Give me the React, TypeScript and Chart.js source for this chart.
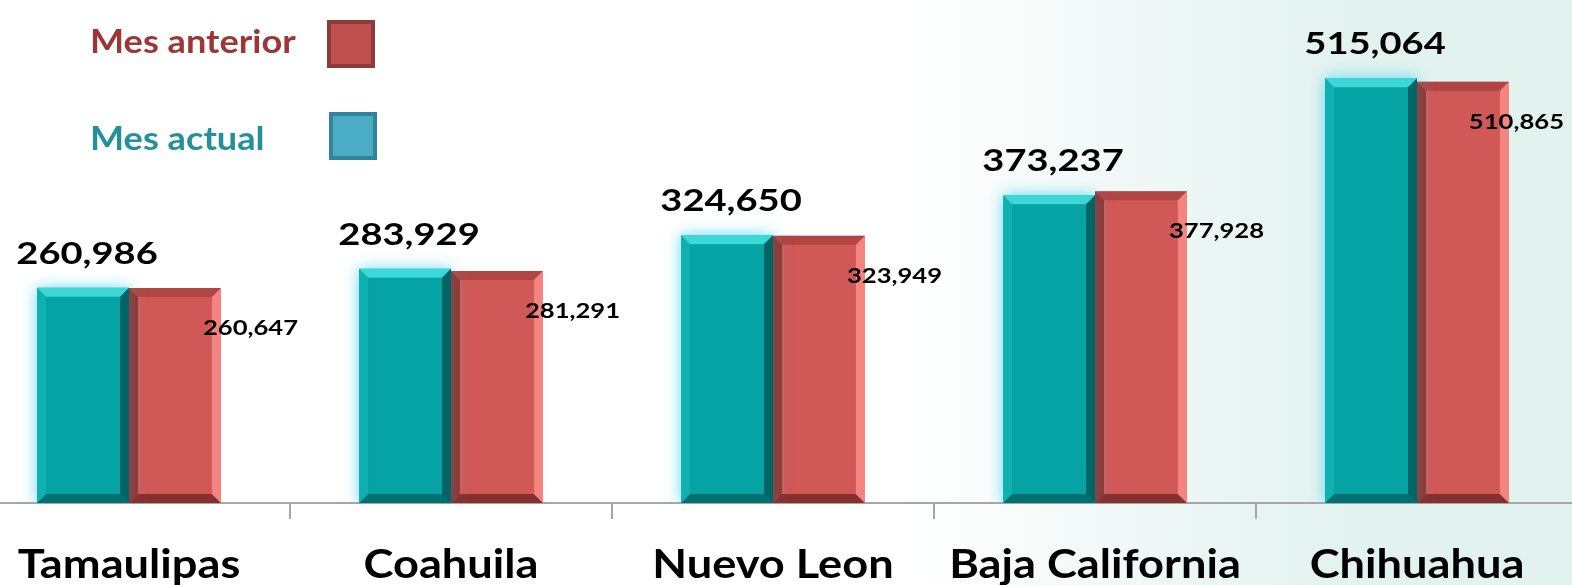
import React, { useEffect, useRef } from "react";
import { Chart, registerables } from "chart.js";
Chart.register(...registerables);

const categories = ["Tamaulipas", "Coahuila", "Nuevo Leon", "Baja California", "Chihuahua"];
const mesActual = [260986, 283929, 324650, 373237, 515064];
const mesAnterior = [260647, 281291, 323949, 377928, 510865];
const seriesNames = ["Mes actual", "Mes anterior"];
const yMax = 610000;

const FONT = "Lato, 'Open Sans', 'DejaVu Sans', sans-serif";
const SHIFT = 32; // canvas is shifted left so the first category is partly cropped
const VIEW_W = 1572;

function fmt(v: number) {
  return v.toLocaleString("en-US");
}

function stretchedText(
  ctx: CanvasRenderingContext2D,
  text: string,
  x: number,
  y: number,
  size: number,
  sx: number,
  color: string,
  align: "left" | "center"
) {
  ctx.save();
  ctx.font = `bold ${size}px ${FONT}`;
  ctx.fillStyle = color;
  ctx.textBaseline = "alphabetic";
  ctx.textAlign = "left";
  const w = ctx.measureText(text).width * sx;
  const left = align === "center" ? x - w / 2 : x;
  ctx.translate(left, y);
  ctx.scale(sx, 1);
  ctx.fillText(text, 0, 0);
  ctx.restore();
  return w;
}

function measureStretched(ctx: CanvasRenderingContext2D, text: string, size: number, sx: number) {
  ctx.save();
  ctx.font = `bold ${size}px ${FONT}`;
  const w = ctx.measureText(text).width * sx;
  ctx.restore();
  return w;
}

const bevelColors = [
  { top: "rgba(70,225,225,0.85)", left: "rgba(20,185,185,0.6)", right: "rgba(0,80,80,0.75)", bottom: "rgba(0,90,90,0.7)" },
  { top: "rgba(150,55,52,0.55)", left: "rgba(120,40,38,0.7)", right: "rgba(250,140,135,0.85)", bottom: "rgba(110,35,33,0.75)" },
];

const backgroundPlugin = {
  id: "bgPlugin",
  beforeDraw(chart: any) {
    const { ctx, width, height } = chart;
    ctx.save();
    ctx.fillStyle = "#ffffff";
    ctx.fillRect(0, 0, width, height);
    const g = ctx.createLinearGradient(900 + SHIFT, 0, 1350 + SHIFT, 0);
    g.addColorStop(0, "rgba(226,242,239,0)");
    g.addColorStop(1, "rgba(226,242,239,1)");
    ctx.fillStyle = g;
    ctx.fillRect(900 + SHIFT, 0, width - 900 - SHIFT, height);
    ctx.restore();
  },
};

const glowPlugin = {
  id: "glowPlugin",
  beforeDatasetDraw(chart: any, args: any) {
    if (args.index === 0) {
      chart.ctx.save();
      chart.ctx.shadowColor = "rgba(90,215,240,0.95)";
      chart.ctx.shadowBlur = 14;
    }
  },
  afterDatasetDraw(chart: any, args: any) {
    if (args.index === 0) chart.ctx.restore();
  },
};

const decorPlugin = {
  id: "decorPlugin",
  afterDatasetsDraw(chart: any) {
    const ctx: CanvasRenderingContext2D = chart.ctx;
    chart.data.datasets.forEach((ds: any, di: number) => {
      const meta = chart.getDatasetMeta(di);
      const c = bevelColors[di];
      meta.data.forEach((el: any) => {
        const { x, y, base, width } = el.getProps(["x", "y", "base", "width"], true);
        const l = x - width / 2;
        const r = x + width / 2;
        const t = y;
        const b = base;
        const s = 9;
        const poly = (pts: number[][], col: string) => {
          ctx.beginPath();
          ctx.moveTo(pts[0][0], pts[0][1]);
          for (let i = 1; i < pts.length; i++) ctx.lineTo(pts[i][0], pts[i][1]);
          ctx.closePath();
          ctx.fillStyle = col;
          ctx.fill();
        };
        ctx.save();
        poly([[l, t], [r, t], [r - s, t + s], [l + s, t + s]], c.top);
        poly([[l, b], [r, b], [r - s, b - s], [l + s, b - s]], c.bottom);
        poly([[l, t], [l + s, t + s], [l + s, b - s], [l, b]], c.left);
        poly([[r, t], [r - s, t + s], [r - s, b - s], [r, b]], c.right);
        ctx.restore();
      });
    });

    // value labels
    const m0 = chart.getDatasetMeta(0);
    m0.data.forEach((el: any, i: number) => {
      const { x, y } = el.getProps(["x", "y"], true);
      stretchedText(ctx, fmt(mesActual[i]), x + 4, y - 24, 30, 1.27, "#000000", "center");
    });
    const m1 = chart.getDatasetMeta(1);
    const limit = VIEW_W + SHIFT - 8;
    m1.data.forEach((el: any, i: number) => {
      const { x, y, width } = el.getProps(["x", "y", "width"], true);
      const txt = fmt(mesAnterior[i]);
      const w = measureStretched(ctx, txt, 21, 1.22);
      let left = x + width / 2 - 18;
      if (left + w > limit) left = limit - w;
      stretchedText(ctx, txt, left, y + 47, 21, 1.22, "#000000", "left");
    });

    // category labels
    const xs = chart.scales.x;
    categories.forEach((cat, i) => {
      stretchedText(ctx, cat, xs.getPixelForTick(i), 578, 40, 1.13, "#000000", "center");
    });

    // legend
    const L = (px: number) => px + SHIFT;
    stretchedText(ctx, seriesNames[1], L(90), 53, 32, 1.13, "#9C3735", "left");
    stretchedText(ctx, seriesNames[0], L(90), 150, 32, 1.13, "#24909A", "left");
    const box = (x: number, y: number, fill: string, stroke: string) => {
      ctx.save();
      ctx.fillStyle = fill;
      ctx.strokeStyle = stroke;
      ctx.lineWidth = 4;
      ctx.beginPath();
      ctx.rect(x + 2, y + 2, 44, 44);
      ctx.fill();
      ctx.stroke();
      ctx.restore();
    };
    box(L(327), 20, "#C0504D", "#8E3A38");
    box(L(329), 112, "#4BACC6", "#31849B");
  },
};

export default function App() {
  const ref = useRef<HTMLCanvasElement | null>(null);
  useEffect(() => {
    if (!ref.current) return;
    const chart = new Chart(ref.current, {
      type: "bar",
      data: {
        labels: categories,
        datasets: [
          {
            label: seriesNames[0],
            data: mesActual,
            backgroundColor: "#05A3A3",
            borderWidth: 0,
            categoryPercentage: 0.571,
            barPercentage: 1.0,
          },
          {
            label: seriesNames[1],
            data: mesAnterior,
            backgroundColor: "#D05856",
            borderWidth: 0,
            categoryPercentage: 0.571,
            barPercentage: 1.0,
          },
        ],
      },
      options: {
        animation: false,
        responsive: true,
        maintainAspectRatio: false,
        layout: { padding: 0 },
        plugins: { legend: { display: false }, tooltip: { enabled: false } },
        scales: {
          x: {
            type: "category",
            offset: true,
            grid: {
              offset: true,
              drawOnChartArea: false,
              drawTicks: true,
              tickLength: 16,
              color: "#A6A6A6",
              lineWidth: 2,
            },
            border: { display: true, color: "#A6A6A6", width: 2 },
            ticks: { display: false },
            afterFit: (scale: any) => {
              scale.height = 82;
            },
          },
          y: { display: false, min: 0, max: yMax },
        },
      },
      plugins: [backgroundPlugin, glowPlugin, decorPlugin],
    });
    return () => chart.destroy();
  }, []);
  return (
    <div
      style={{
        position: "fixed",
        left: -SHIFT,
        top: 0,
        width: VIEW_W + 2 * SHIFT - 26,
        height: 585,
      }}
    >
      <canvas ref={ref} />
    </div>
  );
}
